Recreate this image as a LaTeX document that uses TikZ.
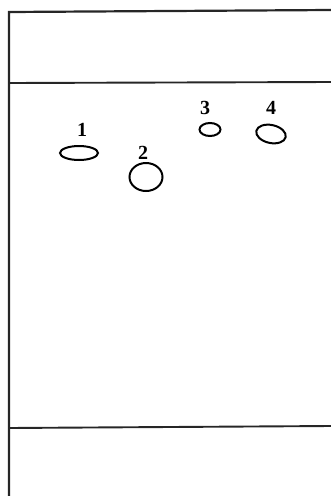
\documentclass[tikz,border=0pt]{standalone}
\usepackage{fontspec}
\setmainfont{Liberation Serif}
\usetikzlibrary{positioning,shapes.geometric}

\begin{document}
\begin{tikzpicture}[
  x=1pt, y=-1pt,
  plate/.style={line width=2.2pt, draw=black!85},
  spot/.style={ellipse, draw=black, line width=2pt, inner sep=0pt},
  lab/.style={font=\fontsize{20}{22}\selectfont\bfseries, inner sep=0pt}
]
\useasboundingbox (0,0) rectangle (331,496);

% ---------------- PLATE ----------------
\coordinate (tl) at (9,12);
\coordinate (tr) at (331,10);
\coordinate (bl) at (9,496);
\draw[plate] (bl) -- (tl) -- (tr);
\draw[plate, line width=1.9pt] (9,83) -- (331,82);
\draw[plate, line width=1.9pt] (9,428) -- (331,426);

% ---------------- SPOTS ----------------
\node (s1) at (79,153) [spot, minimum width=38, minimum height=14] {};
\node (s2) at (146,177) [spot, minimum width=33, minimum height=28] {};
\node (s3) at (210,129.5) [spot, minimum width=21, minimum height=13] {};
\node (s4) at (271,134) [spot, minimum width=30, minimum height=18, rotate=-12] {};

% ---------------- LABELS ----------------
\node (l1) at (82,130) [lab] {1};
\node (l2) at (143,153) [lab] {2};
\node (l3) at (205,108) [lab] {3};
\node (l4) at (271,108) [lab] {4};

\end{tikzpicture}
\end{document}
